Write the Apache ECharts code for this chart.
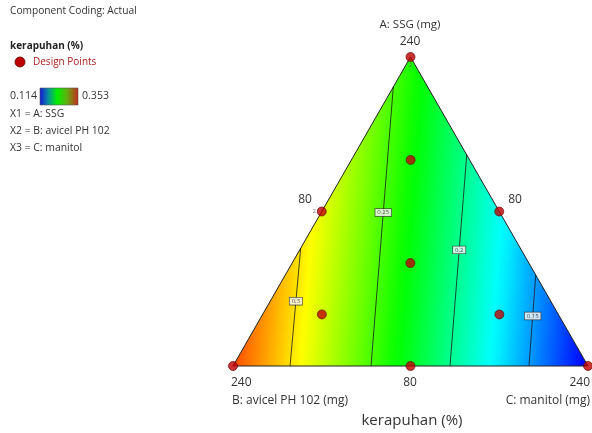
<!DOCTYPE html>
<html><head><meta charset="utf-8">
<script src="https://cdn.jsdelivr.net/npm/echarts@6/dist/echarts.min.js"></script>
<style>html,body{margin:0;padding:0;background:#fff}#c{width:592px;height:433px}</style>
</head><body><div id="c"></div>
<script>
// ---- data (mg of A: SSG, B: avicel PH 102, C: manitol) ----
const componentLow = 80;
const componentHigh = 240;
const contourLevels = [0.3, 0.25, 0.2, 0.15];
const contourStart = [[141, 179, 80], [224.5, 95.5, 80], [189.3, 80, 130.7], [127.1, 80, 192.9]];
const contourEnd = [[80, 214.3, 105.7], [80, 177.8, 142.2], [80, 142.2, 177.8], [80, 106.6, 213.4]];
const designPoints = [[240, 80, 80], [80, 240, 80], [80, 80, 240], [160, 160, 80], [160, 80, 160], [80, 160, 160],
  [133.3, 133.3, 133.3], [186.7, 106.7, 106.7], [106.7, 186.7, 106.7], [106.7, 106.7, 186.7]];
const replicateCounts = [2, 1, 1, 2, 1, 1, 1, 1, 1, 1];
const colorMin = 0.114, colorMax = 0.353;
const tickLabels = { aHigh: '240', aLow: '80', bHigh: '240', bLow: '80', cHigh: '240', cLow: '80' };

// ternary (mg) -> cartesian in [0,1]
function toXY(p) {
  const r = componentHigh - componentLow;
  const a = (p[0] - componentLow) / r, c = (p[2] - componentLow) / r;
  return [c + a / 2, a];
}
function hsl2rgb(h, s, l) {
  const k = n => (n + h / 30) % 12, a = s * Math.min(l, 1 - l);
  const f = n => l - a * Math.max(-1, Math.min(k(n) - 3, Math.min(9 - k(n), 1)));
  return 'rgb(' + Math.round(f(0) * 255) + ',' + Math.round(f(8) * 255) + ',' + Math.round(f(4) * 255) + ')';
}
function rainbow(v) {
  let t = (v - colorMin) / (colorMax - colorMin);
  t = Math.max(0, Math.min(1, t));
  return hsl2rgb(240 * (1 - t), 1, 0.5);
}

const chart = echarts.init(document.getElementById('c'), null, { renderer: 'canvas' });
const FONT = 'Open Sans';
const TXT = '#333';

const series = [];
// filled triangle
series.push({
  type: 'custom', z: 1, silent: true,
  data: [[0.5, 0.5]],
  renderItem: function (params, api) {
    const P0 = api.coord([0, 0]), P1 = api.coord([1, 0]), P2 = api.coord([0.5, 1]);
    let nx = 0, ny = 0;
    const pix = contourStart.map((s, i) => [api.coord(toXY(s)), api.coord(toXY(contourEnd[i]))]);
    pix.forEach(([s, e]) => {
      let dx = s[0] - e[0], dy = s[1] - e[1];
      const L = Math.hypot(dx, dy); dx /= L; dy /= L;
      let mx = -dy, my = dx; if (mx < 0) { mx = -mx; my = -my; }
      nx += mx; ny += my;
    });
    const nl = Math.hypot(nx, ny); nx /= nl; ny /= nl;
    const len = (P1[0] - P0[0]) * nx + (P1[1] - P0[1]) * ny;
    const proj = q => ((q[0] - P0[0]) * nx + (q[1] - P0[1]) * ny) / len;
    const anchors = pix.map(([s, e], i) => [proj(e), contourLevels[i]]);
    const s0 = (anchors[1][1] - anchors[0][1]) / (anchors[1][0] - anchors[0][0]);
    const n = anchors.length;
    const s1 = (anchors[n - 1][1] - anchors[n - 2][1]) / (anchors[n - 1][0] - anchors[n - 2][0]);
    const all = [[0, anchors[0][1] - s0 * anchors[0][0]]].concat(anchors, [[1, anchors[n - 1][1] + s1 * (1 - anchors[n - 1][0])]]);
    const stops = [];
    for (let i = 0; i < all.length - 1; i++) {
      for (let k = 0; k < 8; k++) {
        const f = k / 8;
        stops.push({ offset: all[i][0] + f * (all[i + 1][0] - all[i][0]), color: rainbow(all[i][1] + f * (all[i + 1][1] - all[i][1])) });
      }
    }
    stops.push({ offset: 1, color: rainbow(all[all.length - 1][1]) });
    return {
      type: 'polygon',
      shape: { points: [P0, P1, P2] },
      style: {
        fill: { type: 'linear', x: P0[0], y: P0[1], x2: P0[0] + nx * len, y2: P0[1] + ny * len, colorStops: stops, global: true },
        stroke: '#222', lineWidth: 1
      }
    };
  }
});
// contour lines
contourLevels.forEach((lv, i) => {
  series.push({
    type: 'line', z: 3, silent: true, showSymbol: false, symbol: 'none',
    data: [toXY(contourStart[i]), toXY(contourEnd[i])],
    lineStyle: { color: '#1a1a1a', width: 0.8 }
  });
});
// contour labels
series.push({
  type: 'scatter', z: 5, silent: true, symbolSize: 0,
  data: contourLevels.map((lv, i) => {
    const s = toXY(contourStart[i]), e = toXY(contourEnd[i]);
    const f = 0.45;
    return { value: [s[0] + f * (e[0] - s[0]), s[1] + f * (e[1] - s[1])], name: String(lv) };
  }),
  label: {
    show: true, position: 'inside', formatter: p => p.name,
    fontSize: 6, fontFamily: FONT, color: '#222',
    backgroundColor: '#fff', borderColor: '#333', borderWidth: 0.7, padding: [1, 2, 0, 2]
  }
});
// design points
const dpData = designPoints.map((p, i) => ({ value: toXY(p), rep: replicateCounts[i] }));
dpData[3].label = { position: 'left', distance: 1 };
series.push({
  type: 'scatter', z: 6, silent: true, clip: false, symbolSize: 9,
  itemStyle: { color: '#c00000', borderColor: '#5a0000', borderWidth: 0.8 },
  data: dpData,
  label: {
    show: true, formatter: p => (p.data.rep > 1 ? String(p.data.rep) : ''),
    fontSize: 6, color: '#555', fontFamily: FONT,
    position: 'bottom', distance: 0
  }
});

function txt(x, y, text, size, opt) {
  return {
    type: 'text', x: x, y: y, silent: true,
    style: Object.assign({ text: text, fill: TXT, font: size + 'px "' + FONT + '"', textAlign: 'left', textVerticalAlign: 'middle' }, opt || {})
  };
}
const legendStops = [
  { offset: 0, color: '#1414d8' },
  { offset: 0.22, color: '#0a8fa0' },
  { offset: 0.45, color: '#00f000' },
  { offset: 0.7, color: '#60b010' },
  { offset: 1, color: '#c8281c' }
];

const graphics = [
  txt(10, 11, 'Component Coding: Actual', 10.2),
  txt(10, 46, 'kerapuhan (%)', 10, { font: 'bold 10px "' + FONT + '"', fill: '#222' }),
  { type: 'circle', shape: { cx: 20, cy: 62, r: 5 }, style: { fill: '#c00000', stroke: '#5a0000', lineWidth: 0.8 } },
  txt(33, 62, 'Design Points', 10, { fill: '#b01c1c' }),
  txt(10, 96, colorMin.toFixed(3), 10.6),
  { type: 'rect', shape: { x: 40, y: 88, width: 38, height: 17 },
    style: { fill: new echarts.graphic.LinearGradient(0, 0, 1, 0, legendStops), stroke: '#555', lineWidth: 0.6 } },
  txt(82, 96, colorMax.toFixed(3), 10.6),
  txt(10, 114, 'X1 = A: SSG', 10.4),
  txt(10, 131, 'X2 = B: avicel PH 102', 10.4),
  txt(10, 148, 'X3 = C: manitol', 10.4),
  txt(410, 25, 'A: SSG (mg)', 11.5, { textAlign: 'center' }),
  txt(410, 42, tickLabels.aHigh, 12, { textAlign: 'center' }),
  txt(305, 200, tickLabels.cLow, 12, { textAlign: 'center' }),
  txt(515, 200, tickLabels.bLow, 12, { textAlign: 'center' }),
  txt(231, 383, tickLabels.bHigh, 12),
  txt(410, 383, tickLabels.aLow, 12, { textAlign: 'center' }),
  txt(590, 383, tickLabels.cHigh, 12, { textAlign: 'right' }),
  txt(232, 401, 'B: avicel PH 102 (mg)', 12),
  txt(590, 401, 'C: manitol (mg)', 12, { textAlign: 'right' }),
  txt(412, 421, 'kerapuhan (%)', 15, { textAlign: 'center' })
];

chart.setOption({
  animation: false,
  backgroundColor: '#fff',
  grid: { left: 233, right: 4, top: 57, bottom: 67 },
  xAxis: { type: 'value', min: 0, max: 1, show: false },
  yAxis: { type: 'value', min: 0, max: 1, show: false },
  series: series,
  graphic: graphics
});
</script></body></html>
